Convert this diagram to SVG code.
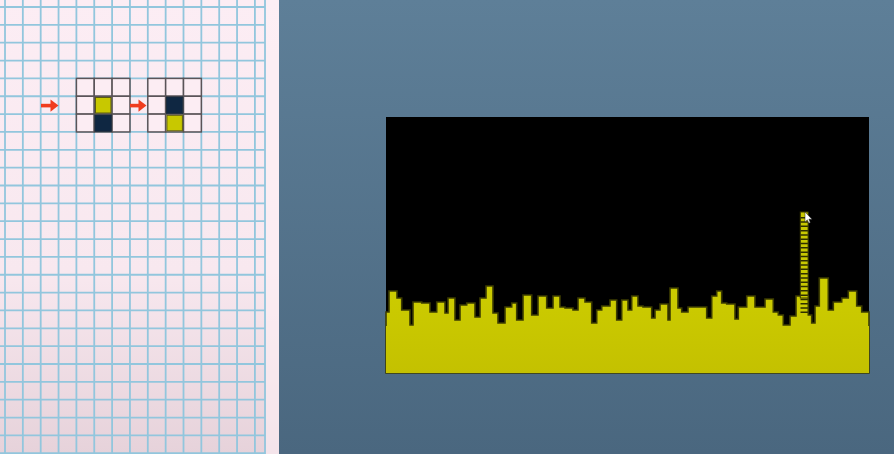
<svg xmlns="http://www.w3.org/2000/svg" width="894" height="454" viewBox="0 0 894 454">
<defs>
<linearGradient id="bg" x1="0" y1="0" x2="0" y2="1"><stop offset="0" stop-color="#5e7f98"/><stop offset="1" stop-color="#4a677f"/></linearGradient>
<linearGradient id="paper" x1="0" y1="0" x2="0" y2="1"><stop offset="0" stop-color="#fcedf4"/><stop offset="0.6" stop-color="#f8e8ef"/><stop offset="1" stop-color="#e6d2da"/></linearGradient>
<linearGradient id="yel" gradientUnits="userSpaceOnUse" x1="0" y1="280" x2="0" y2="373"><stop offset="0" stop-color="#cdcd00"/><stop offset="1" stop-color="#c4c100"/></linearGradient>
<style>
.gl{stroke:#92c6dd;stroke-width:1.8;fill:none}
.cell{fill:#fcedf3;stroke:#5a5458;stroke-width:1.5}
.y{fill:#c8c800;stroke:#5a5a10;stroke-width:1}
.n{fill:#0f2742;stroke:#1a2a3a;stroke-width:1}
.arr{fill:#f03c1e}
</style>
</defs>
<rect width="894" height="454" fill="url(#bg)"/>
<g id="paper">
<rect x="0" y="0" width="279" height="454" fill="url(#paper)"/>
<path class="gl" d="M5,0V454 M22.85,0V454 M40.7,0V454 M58.55,0V454 M76.4,0V454 M94.25,0V454 M112.1,0V454 M129.95,0V454 M147.8,0V454 M165.65,0V454 M183.5,0V454 M201.35,0V454 M219.2,0V454 M237.05,0V454 M254.9,0V454 M265,0V454"/>
<path class="gl" d="M0,7H265 M0,24.85H265 M0,42.7H265 M0,60.55H265 M0,78.4H265 M0,96.25H265 M0,114.1H265 M0,131.95H265 M0,149.8H265 M0,167.65H265 M0,185.5H265 M0,203.35H265 M0,221.2H265 M0,239.05H265 M0,256.9H265 M0,274.75H265 M0,292.6H265 M0,310.45H265 M0,328.3H265 M0,346.15H265 M0,364H265 M0,381.85H265 M0,399.7H265 M0,417.55H265 M0,435.4H265 M0,453.25H265"/>
<rect x="266" y="0" width="13" height="454" fill="#fdf0f5" opacity="0.6"/>
</g>
<g id="arrow1" class="arr"><rect x="41" y="103.8" width="11" height="3.6"/><polygon points="50.5,99.5 58.5,105.6 50.5,111.7"/></g>
<g id="grid1">
<rect class="cell" x="76.4" y="78.4" width="17.85" height="17.85"/><rect class="cell" x="94.25" y="78.4" width="17.85" height="17.85"/><rect class="cell" x="112.1" y="78.4" width="17.85" height="17.85"/>
<rect class="cell" x="76.4" y="96.25" width="17.85" height="17.85"/><rect class="cell" x="94.25" y="96.25" width="17.85" height="17.85"/><rect class="cell" x="112.1" y="96.25" width="17.85" height="17.85"/>
<rect class="cell" x="76.4" y="114.1" width="17.85" height="17.85"/><rect class="cell" x="94.25" y="114.1" width="17.85" height="17.85"/><rect class="cell" x="112.1" y="114.1" width="17.85" height="17.85"/>
<rect class="y" x="95.5" y="97.5" width="15.5" height="15.5"/>
<rect class="n" x="95" y="115" width="16.3" height="16.3"/>
</g>
<g id="arrow2" class="arr"><rect x="130" y="103.8" width="10" height="3.6"/><polygon points="138.5,99.5 146.5,105.6 138.5,111.7"/></g>
<g id="grid2">
<rect class="cell" x="147.8" y="78.4" width="17.85" height="17.85"/><rect class="cell" x="165.65" y="78.4" width="17.85" height="17.85"/><rect class="cell" x="183.5" y="78.4" width="17.85" height="17.85"/>
<rect class="cell" x="147.8" y="96.25" width="17.85" height="17.85"/><rect class="cell" x="165.65" y="96.25" width="17.85" height="17.85"/><rect class="cell" x="183.5" y="96.25" width="17.85" height="17.85"/>
<rect class="cell" x="147.8" y="114.1" width="17.85" height="17.85"/><rect class="cell" x="165.65" y="114.1" width="17.85" height="17.85"/><rect class="cell" x="183.5" y="114.1" width="17.85" height="17.85"/>
<rect class="n" x="166.5" y="97" width="16.3" height="16.3"/>
<rect class="y" x="166.9" y="115.3" width="15.5" height="15.5"/>
</g>
<g id="screen">
<rect x="386" y="117" width="483" height="256" fill="#000"/>
<path fill="url(#yel)" stroke="#3c3c00" stroke-width="1.6" stroke-linejoin="miter" d="M386,373 V312 H389 V291 H397 V298 H401.7 V310 H410 V325 H413 V302 H421.7 V303 H430 V312 H436.7 V302 H445 V313 H448 V298 H455 V320 H460 V305 H466.7 V303 H475 V317 H480 V298 H486 V286 H493 V313 H498 V323 H505 V307 H511.7 V303 H516.7 V320 H523 V295 H531.7 V315 H538 V296 H546.7 V308 H553 V296 H560 V307 H565 V308 H573 V310 H578 V298 H585 V302 H591.7 V323 H596.7 V310 H601.7 V306 H610 V300 H616.7 V320 H621.7 V300 H628 V310 H631.7 V296 H638 V306 H643 V307 H651.7 V318 H655 V310 H660 V304 H668 V320 H670 V288 H678 V308 H681.7 V312 H688 V307 H706.7 V318 H711.7 V296 H716.7 V291 H721.7 V303 H726.7 V304 H735 V319 H738.3 V307 H746.7 V296 H755 V307 H765 V299 H773.3 V312 H778.3 V315 H783.3 V325 H790 V316 H796 V296 H808.3 V315 H811.7 V323 H815 V306 H819.3 V278 H828.3 V310 H833.3 V302 H841.7 V298 H848.3 V291 H856.7 V306 H861.7 V312 H869 V373 Z"/>
<rect x="386" y="326" width="483" height="47" fill="url(#yel)"/>
<rect x="800.3" y="212" width="7.8" height="86" fill="#c8c800" stroke="#3c3c00" stroke-width="1"/>
<line x1="804.2" y1="217" x2="804.2" y2="314" stroke="#2e2e00" stroke-width="7.4" stroke-dasharray="1.5 2.8"/>
<polygon points="805,212 805,222 807.3,219.8 808.8,223.2 810.3,222.5 808.9,219.2 812,219.2" fill="#fff" stroke="#222" stroke-width="0.5"/>
</g>
</svg>
